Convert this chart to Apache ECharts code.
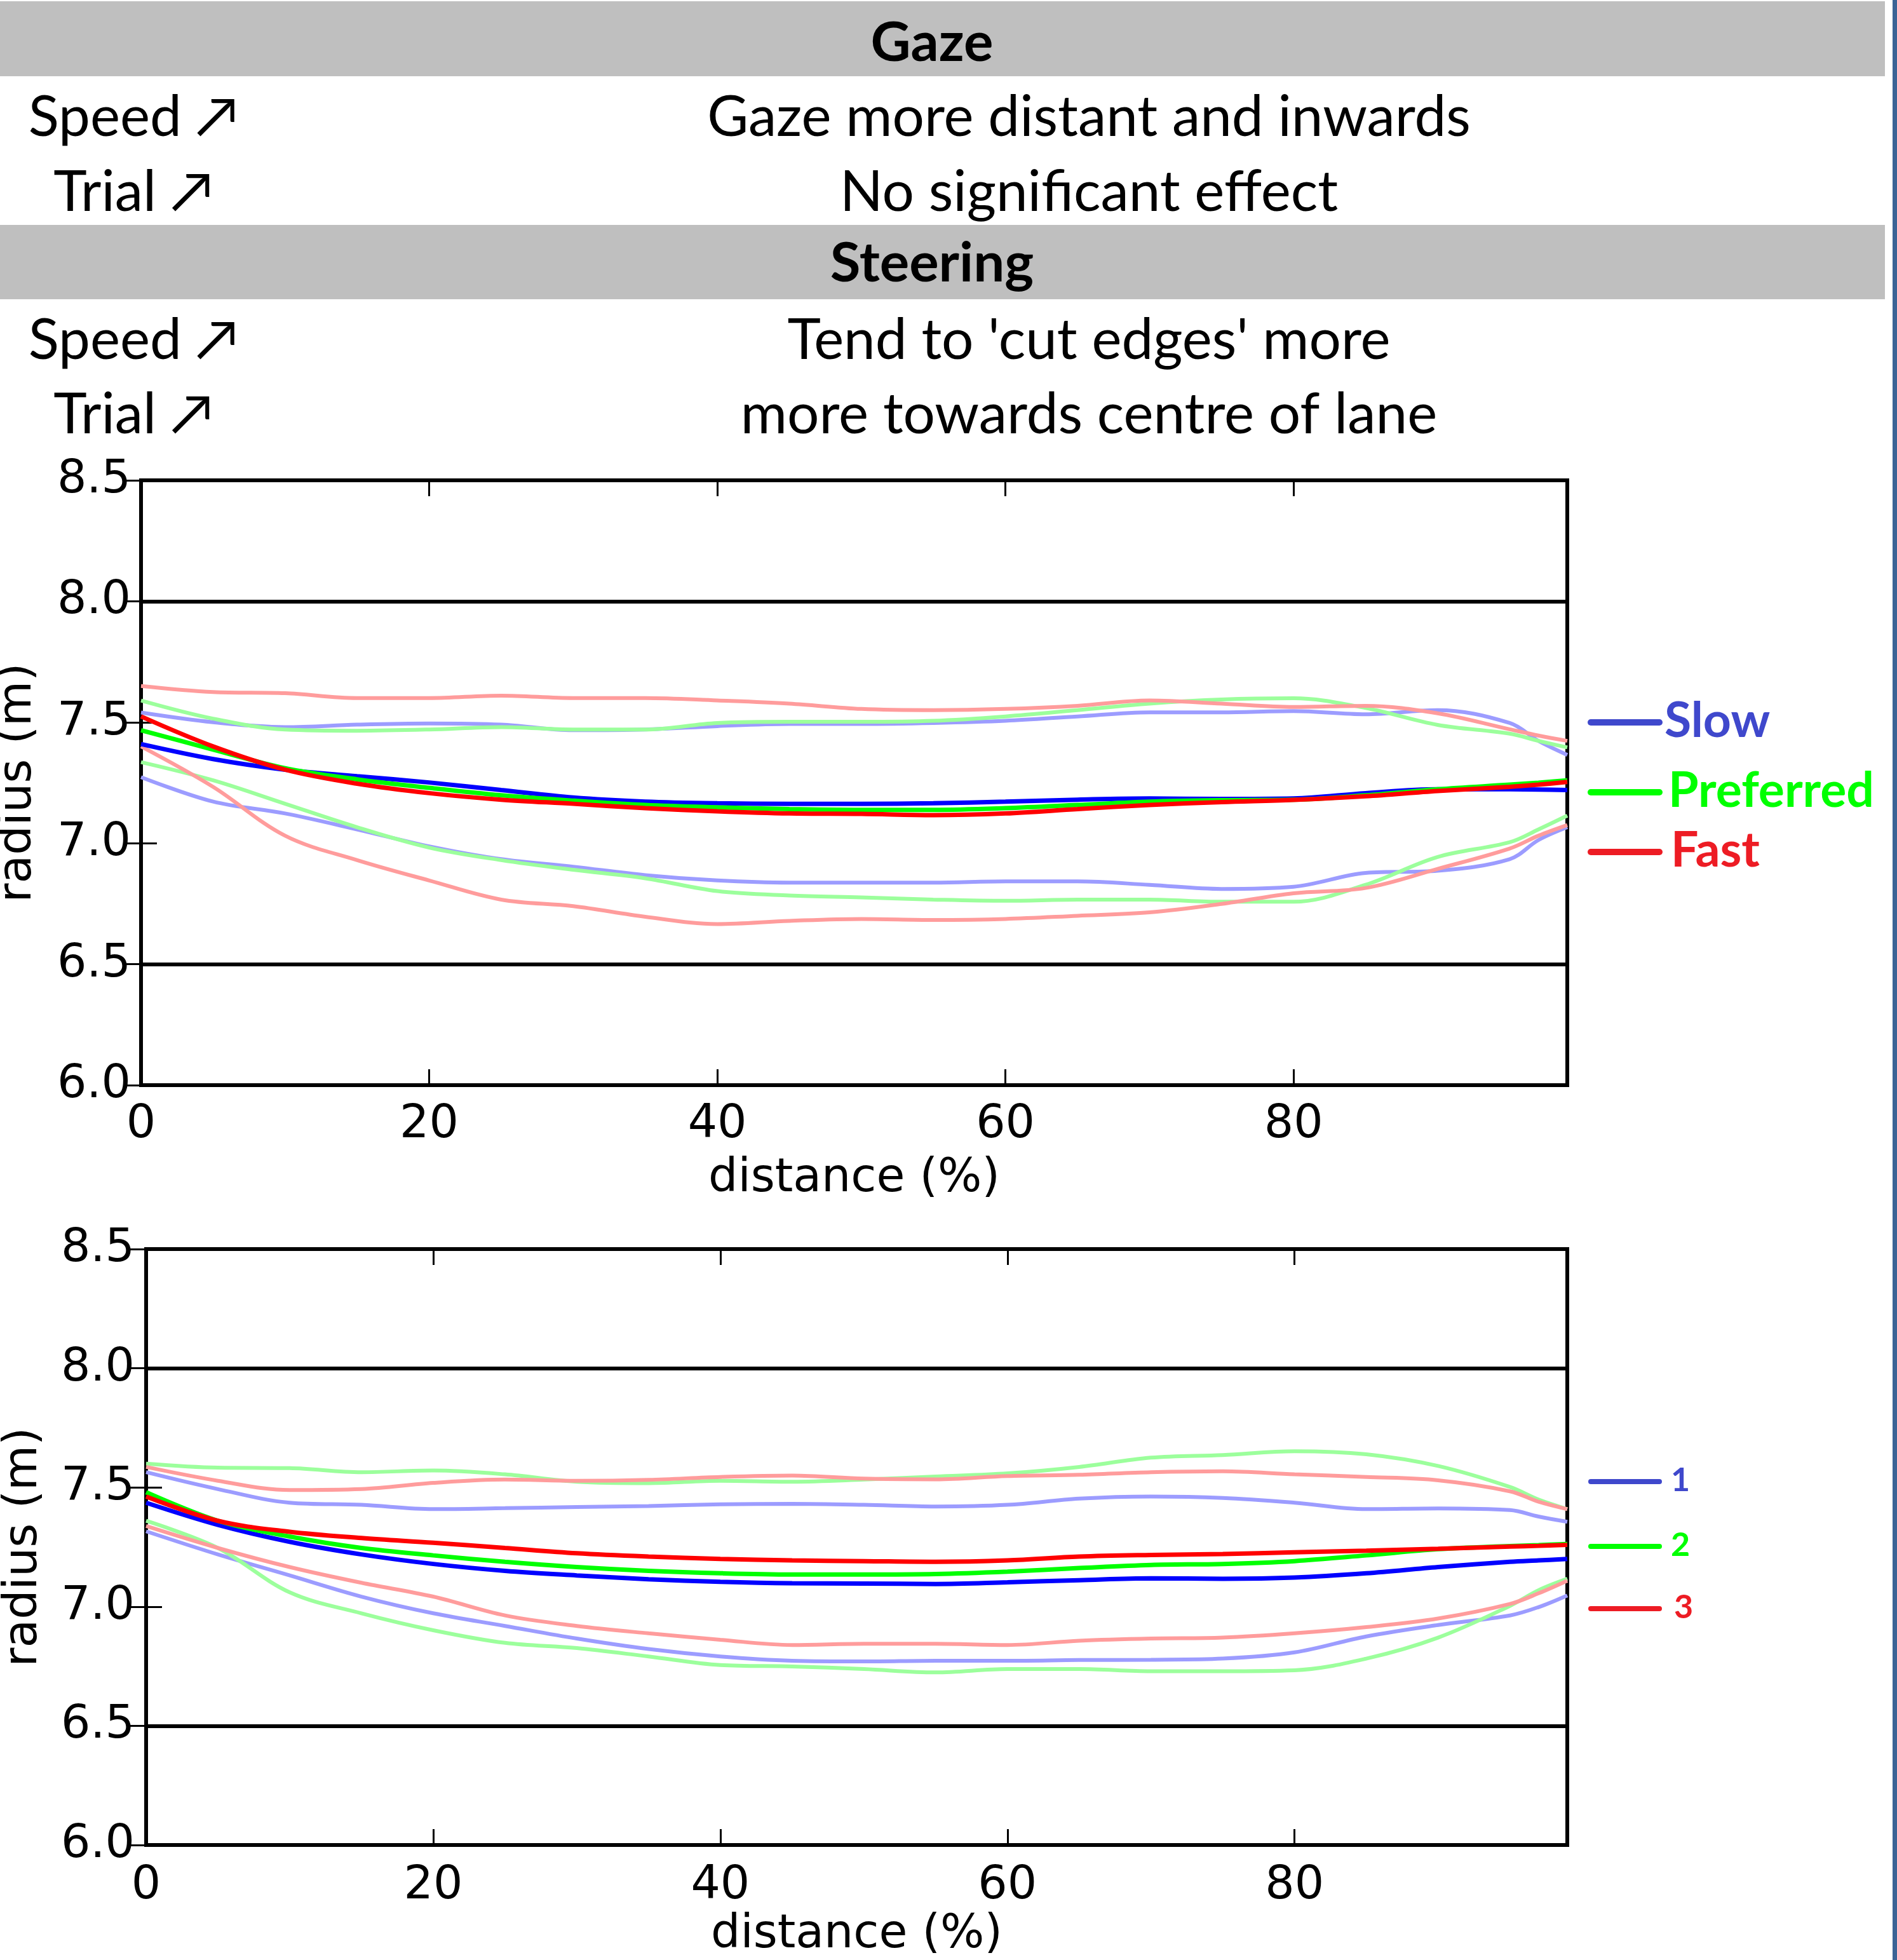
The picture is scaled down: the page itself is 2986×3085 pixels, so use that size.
<!DOCTYPE html>
<html>
<head>
<meta charset="utf-8">
<script src="https://cdn.jsdelivr.net/npm/echarts@6/dist/echarts.min.js"></script>
<style>
  html, body { margin: 0; padding: 0; background: #fff; }
  #chart { width: 2986px; height: 3085px; }
</style>
</head>
<body>
<div id="chart"></div>
<script>
// distance along the lane (%)
const distance = [0, 5, 10, 15, 20, 25, 30, 35, 40, 45, 50, 55, 60, 65, 70, 75, 80, 85, 90, 95, 97, 99];

// top panel - speed conditions: mean, upper and lower band
const slowMean = [7.41, 7.348, 7.304, 7.277, 7.251, 7.22, 7.189, 7.172, 7.165, 7.163, 7.163, 7.165, 7.172, 7.18, 7.185, 7.183, 7.185, 7.207, 7.223, 7.223, 7.222, 7.22];
const slowHi = [7.54, 7.50, 7.48, 7.49, 7.495, 7.49, 7.467, 7.47, 7.484, 7.493, 7.493, 7.497, 7.506, 7.524, 7.541, 7.541, 7.546, 7.533, 7.55, 7.497, 7.423, 7.365];
const slowLo = [7.273, 7.172, 7.123, 7.057, 6.987, 6.934, 6.903, 6.868, 6.846, 6.837, 6.837, 6.837, 6.842, 6.842, 6.828, 6.811, 6.82, 6.877, 6.886, 6.934, 7.013, 7.066];

const prefMean = [7.467, 7.387, 7.31, 7.264, 7.229, 7.198, 7.176, 7.158, 7.148, 7.141, 7.138, 7.138, 7.145, 7.158, 7.172, 7.178, 7.18, 7.198, 7.223, 7.242, 7.25, 7.26];
const prefHi = [7.59, 7.515, 7.47, 7.465, 7.47, 7.48, 7.47, 7.47, 7.497, 7.502, 7.502, 7.506, 7.524, 7.55, 7.577, 7.594, 7.599, 7.559, 7.489, 7.453, 7.423, 7.396];
const prefLo = [7.335, 7.26, 7.163, 7.066, 6.982, 6.93, 6.89, 6.855, 6.802, 6.784, 6.776, 6.767, 6.762, 6.767, 6.767, 6.758, 6.758, 6.828, 6.943, 7.004, 7.057, 7.114];

const fastMean = [7.524, 7.40, 7.304, 7.246, 7.207, 7.18, 7.163, 7.145, 7.132, 7.123, 7.121, 7.116, 7.123, 7.141, 7.158, 7.17, 7.179, 7.194, 7.216, 7.233, 7.242, 7.253];
const fastHi = [7.65, 7.625, 7.62, 7.60, 7.60, 7.61, 7.60, 7.60, 7.59, 7.577, 7.555, 7.55, 7.555, 7.568, 7.59, 7.577, 7.563, 7.568, 7.537, 7.471, 7.445, 7.423];
const fastLo = [7.40, 7.233, 7.031, 6.93, 6.846, 6.767, 6.74, 6.696, 6.666, 6.679, 6.687, 6.683, 6.687, 6.70, 6.714, 6.749, 6.793, 6.815, 6.894, 6.978, 7.031, 7.075];

// bottom panel - trial 1, 2, 3
const t1Mean = [7.436, 7.343, 7.272, 7.219, 7.179, 7.15, 7.131, 7.115, 7.104, 7.098, 7.097, 7.095, 7.102, 7.111, 7.119, 7.117, 7.122, 7.14, 7.166, 7.188, 7.194, 7.2];
const t1Hi = [7.564, 7.493, 7.436, 7.427, 7.409, 7.413, 7.418, 7.422, 7.429, 7.431, 7.427, 7.42, 7.427, 7.453, 7.462, 7.456, 7.436, 7.409, 7.412, 7.405, 7.378, 7.356];
const t1Lo = [7.316, 7.219, 7.131, 7.042, 6.972, 6.919, 6.866, 6.822, 6.791, 6.773, 6.77, 6.773, 6.773, 6.776, 6.777, 6.782, 6.808, 6.875, 6.923, 6.963, 6.998, 7.047];

const t2Mean = [7.48, 7.36, 7.294, 7.246, 7.215, 7.188, 7.166, 7.15, 7.14, 7.135, 7.135, 7.137, 7.147, 7.162, 7.175, 7.179, 7.191, 7.215, 7.241, 7.254, 7.258, 7.263];
const t2Hi = [7.60, 7.583, 7.581, 7.564, 7.571, 7.555, 7.524, 7.518, 7.528, 7.524, 7.533, 7.546, 7.559, 7.586, 7.625, 7.636, 7.652, 7.639, 7.59, 7.502, 7.449, 7.409];
const t2Lo = [7.36, 7.246, 7.06, 6.972, 6.901, 6.848, 6.826, 6.791, 6.755, 6.749, 6.738, 6.724, 6.738, 6.738, 6.729, 6.729, 6.733, 6.782, 6.87, 7.003, 7.069, 7.117];

const t3Mean = [7.462, 7.36, 7.314, 7.288, 7.268, 7.246, 7.224, 7.21, 7.2, 7.194, 7.191, 7.188, 7.194, 7.21, 7.217, 7.221, 7.228, 7.235, 7.243, 7.252, 7.255, 7.259];
const t3Hi = [7.586, 7.528, 7.489, 7.493, 7.519, 7.533, 7.528, 7.532, 7.544, 7.55, 7.537, 7.534, 7.548, 7.553, 7.564, 7.568, 7.555, 7.544, 7.53, 7.484, 7.44, 7.409];
const t3Lo = [7.338, 7.246, 7.166, 7.10, 7.042, 6.963, 6.919, 6.888, 6.861, 6.839, 6.844, 6.844, 6.839, 6.857, 6.866, 6.87, 6.888, 6.914, 6.95, 7.011, 7.056, 7.109];

// lane edges drawn as thick lines
const laneEdges = [8.0, 6.5];

// summary table rows
const tableRows = [
  { header: 'Gaze' },
  { factor: 'Speed \u2197', effect: 'Gaze more distant and inwards' },
  { factor: 'Trial \u2197', effect: 'No significant effect' },
  { header: 'Steering' },
  { factor: 'Speed \u2197', effect: "Tend to 'cut edges' more" },
  { factor: 'Trial \u2197', effect: 'more towards centre of lane' }
];

const speedLegend = ['Slow', 'Preferred', 'Fast'];
const trialLegend = ['1', '2', '3'];

const meanColors = ['#0000FF', '#00FF00', '#FF0000'];
const bandColors = ['#9C9CFF', '#9CFF9C', '#FF9C9C'];
const legendColors = ['#3F48CC', '#00FF00', '#ED1C24'];

const myChart = echarts.init(document.getElementById('chart'));

function pairs(ys) {
  return distance.map((d, i) => [d, ys[i]]);
}

function lineSeries(name, ys, color, width, axisIdx, z) {
  return {
    name: name,
    type: 'line',
    xAxisIndex: axisIdx,
    yAxisIndex: axisIdx,
    data: pairs(ys),
    showSymbol: false,
    symbol: 'none',
    smooth: 0.35,
    z: z,
    lineStyle: { color: color, width: width },
    silent: true
  };
}

function panelSeries(groups, axisIdx) {
  const out = [];
  groups.forEach((g, i) => {
    out.push(lineSeries(g.name + ' hi', g.hi, bandColors[i], 6, axisIdx, 2));
    out.push(lineSeries(g.name + ' lo', g.lo, bandColors[i], 6, axisIdx, 2));
  });
  groups.forEach((g, i) => {
    out.push(lineSeries(g.name, g.mean, meanColors[i], 7, axisIdx, 3));
  });
  // thick lane edge lines
  out[0].markLine = {
    silent: true,
    symbol: 'none',
    label: { show: false },
    lineStyle: { color: '#000', width: 6, type: 'solid' },
    data: laneEdges.map(v => ({ yAxis: v }))
  };
  return out;
}

const tickFont = { fontFamily: 'DejaVu Sans', fontSize: 73, color: '#000' };
const tickStyle = { inside: true, length: 25, lineStyle: { color: '#000', width: 3 } };

function xAxes(grid, nameGap, margin) {
  return [
    {
      type: 'value', gridIndex: grid, min: 0, max: 99, interval: 20, position: 'bottom',
      name: 'distance (%)', nameLocation: 'middle', nameGap: nameGap,
      nameTextStyle: tickFont,
      axisLine: { show: false }, splitLine: { show: false },
      axisTick: tickStyle,
      axisLabel: Object.assign({ margin: margin, showMaxLabel: false,
        formatter: v => (v % 20 === 0 ? String(v) : '') }, tickFont)
    },
    {
      type: 'value', gridIndex: grid, min: 0, max: 99, interval: 20, position: 'top',
      axisLine: { show: false }, splitLine: { show: false },
      axisTick: tickStyle, axisLabel: { show: false }
    }
  ];
}

function yAxes(grid, nameGap, margin) {
  return [
    {
      type: 'value', gridIndex: grid, min: 6, max: 8.5, interval: 0.5, position: 'left',
      name: 'radius (m)', nameLocation: 'middle', nameGap: nameGap, nameRotate: 90,
      nameTextStyle: tickFont,
      axisLine: { show: false }, splitLine: { show: false },
      axisTick: tickStyle,
      axisLabel: Object.assign({ margin: margin, formatter: v => v.toFixed(1) }, tickFont)
    },
    {
      type: 'value', gridIndex: grid, min: 6, max: 8.5, interval: 0.5, position: 'right',
      axisLine: { show: false }, splitLine: { show: false },
      axisTick: tickStyle, axisLabel: { show: false }
    }
  ];
}

// table graphics
const graphics = [];
const rowY = [65, 182, 300, 412, 533, 650];
const headerBars = [[2, 118], [354, 117]];
headerBars.forEach(b => {
  graphics.push({ type: 'rect', shape: { x: 0, y: b[0], width: 2967, height: b[1] },
    style: { fill: '#BFBFBF' }, silent: true });
});
tableRows.forEach((r, i) => {
  if (r.header) {
    graphics.push({ type: 'text', style: { text: r.header, x: 1467, y: rowY[i] + 3,
      font: 'bold 87px Lato', fill: '#000', textAlign: 'center', align: 'center',
      textVerticalAlign: 'middle', verticalAlign: 'middle' }, silent: true });
  } else {
    graphics.push({ type: 'text', style: { text: r.factor, x: 210, y: rowY[i] + 3,
      font: '89px Lato', fill: '#000', textAlign: 'center', align: 'center',
      textVerticalAlign: 'middle', verticalAlign: 'middle' }, silent: true });
    graphics.push({ type: 'text', style: { text: r.effect, x: 1714, y: rowY[i] + 3,
      font: '89px Lato', fill: '#000', textAlign: 'center', align: 'center',
      textVerticalAlign: 'middle', verticalAlign: 'middle' }, silent: true });
  }
});
// slide border on the right
graphics.push({ type: 'rect', shape: { x: 2979, y: 0, width: 7, height: 3085 },
  style: { fill: '#3B6396' }, silent: true });

// hand drawn legends
function addLegend(labels, ys, textX, fontSize, lineW) {
  labels.forEach((lab, i) => {
    graphics.push({ type: 'line', shape: { x1: 2504, y1: ys[i], x2: 2612, y2: ys[i] },
      style: { stroke: legendColors[i], lineWidth: lineW, lineCap: 'round' }, silent: true });
    graphics.push({ type: 'text', style: { text: lab, x: textX[i], y: ys[i] - 2,
      font: 'bold ' + fontSize + 'px Lato', fill: legendColors[i], textAlign: 'left', align: 'left',
      textVerticalAlign: 'middle', verticalAlign: 'middle' }, silent: true });
  });
}
addLegend(speedLegend, [1137, 1247, 1341], [2620, 2626, 2630], 77, 10);
addLegend(trialLegend, [2332, 2434, 2532], [2630, 2630, 2635], 52, 8);

const speedGroups = [
  { name: 'Slow', mean: slowMean, hi: slowHi, lo: slowLo },
  { name: 'Preferred', mean: prefMean, hi: prefHi, lo: prefLo },
  { name: 'Fast', mean: fastMean, hi: fastHi, lo: fastLo }
];
const trialGroups = [
  { name: '1', mean: t1Mean, hi: t1Hi, lo: t1Lo },
  { name: '2', mean: t2Mean, hi: t2Hi, lo: t2Lo },
  { name: '3', mean: t3Mean, hi: t3Hi, lo: t3Lo }
];

const option = {
  animation: false,
  backgroundColor: '#fff',
  grid: [
    { left: 222, top: 756, width: 2245, height: 952, show: true, borderColor: '#000', borderWidth: 6,
      backgroundColor: 'transparent', containLabel: false, outerBoundsMode: 'none' },
    { left: 230, top: 1966, width: 2237, height: 938, show: true, borderColor: '#000', borderWidth: 6,
      backgroundColor: 'transparent', containLabel: false, outerBoundsMode: 'none' }
  ],
  xAxis: [].concat(xAxes(0, 112, 27), xAxes(1, 106, 29)),
  yAxis: [].concat(yAxes(0, 156, 16), yAxes(1, 155, 18)),
  series: [].concat(panelSeries(speedGroups, 0), panelSeries(trialGroups, 2)),
  graphic: graphics
};

myChart.setOption(option, true);
window.addEventListener('resize', function () {
  myChart.resize();
});
</script>
</body>
</html>
